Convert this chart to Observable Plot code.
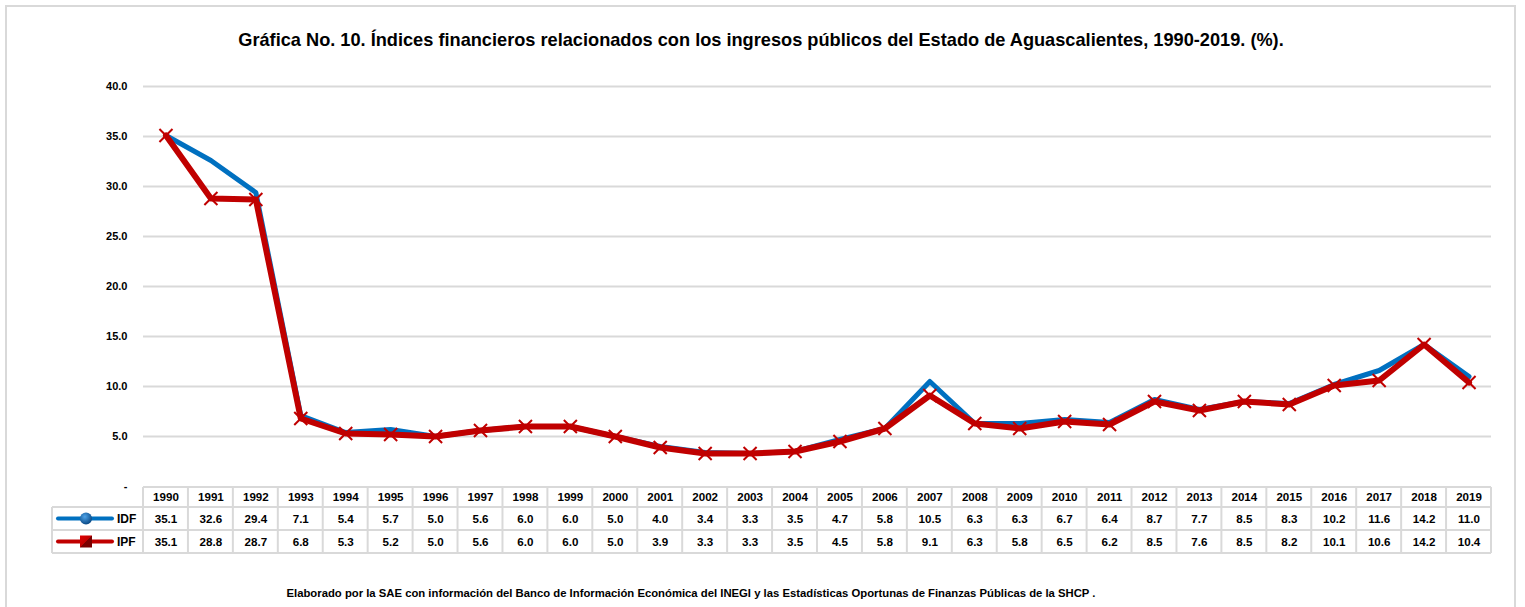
<!DOCTYPE html>
<html>
<head>
<meta charset="utf-8">
<script src="https://cdn.jsdelivr.net/npm/d3@7"></script>
<script src="https://cdn.jsdelivr.net/npm/@observablehq/plot@0.6"></script>
<style>
  html, body { margin: 0; padding: 0; background: #fff; }
  body { width: 1525px; height: 607px; position: relative; overflow: hidden; font-family: "Liberation Sans", Arial, sans-serif; }
  #frame { position: absolute; left: 5px; top: 5px; width: 1511px; height: 700px; border: 2px solid #d9d9d9; border-bottom: none; box-sizing: border-box; }
  #title { position: absolute; left: 0; width: 1522px; top: 30px; text-align: center; font-weight: bold; font-size: 18.2px; color: #000; white-space: nowrap; }
  #chart { position: absolute; left: 0; top: 70px; }
  #caption { position: absolute; left: 0; width: 1382px; top: 587px; text-align: center; font-weight: bold; font-size: 11.3px; color: #000; white-space: nowrap; }
</style>
</head>
<body>
<div id="frame"></div>
<div id="title">Gráfica No. 10. Índices financieros relacionados con los ingresos públicos del Estado de Aguascalientes, 1990-2019. (%).</div>
<div id="chart"></div>
<div id="caption">Elaborado por la SAE con información del Banco de Información Económica del INEGI y las Estadísticas Oportunas de Finanzas Públicas de la SHCP .</div>
<script>
const years = [1990,1991,1992,1993,1994,1995,1996,1997,1998,1999,2000,2001,2002,2003,2004,2005,2006,2007,2008,2009,2010,2011,2012,2013,2014,2015,2016,2017,2018,2019];
const idf = [35.1,32.6,29.4,7.1,5.4,5.7,5.0,5.6,6.0,6.0,5.0,4.0,3.4,3.3,3.5,4.7,5.8,10.5,6.3,6.3,6.7,6.4,8.7,7.7,8.5,8.3,10.2,11.6,14.2,11.0];
const ipf = [35.1,28.8,28.7,6.8,5.3,5.2,5.0,5.6,6.0,6.0,5.0,3.9,3.3,3.3,3.5,4.5,5.8,9.1,6.3,5.8,6.5,6.2,8.5,7.6,8.5,8.2,10.1,10.6,14.2,10.4];
const seriesNames = ["IDF", "IPF"];
const yTicks = [0, 5, 10, 15, 20, 25, 30, 35, 40];

const blue = "#0070C0";
const red = "#C00000";
const gridColor = "#d9d9d9";

const idfData = years.map((y, i) => ({year: y, value: idf[i]}));
const ipfData = years.map((y, i) => ({year: y, value: ipf[i]}));

const W = 1525, H = 490;
const mL = 143, mR = 34, mT = 16, mB = 74;
const rowTop = [1, 21, 44, 67]; // table row boundaries below the frame bottom (px)
const legendLeft = 52;

function tableMark(index, scales, values, dimensions) {
  const x = scales.x;
  const step = x(years[1]) - x(years[0]);
  const base = dimensions.height - dimensions.marginBottom;
  const g = d3.create("svg:g");
  const defs = g.append("defs");
  const rg = defs.append("radialGradient").attr("id", "ballGrad").attr("cx", "40%").attr("cy", "35%").attr("r", "65%");
  rg.append("stop").attr("offset", "0%").attr("stop-color", "#4ea3e8");
  rg.append("stop").attr("offset", "100%").attr("stop-color", "#0a4a86");
  const lg = defs.append("linearGradient").attr("id", "sqGrad").attr("x1", "0").attr("y1", "0").attr("x2", "1").attr("y2", "1");
  lg.append("stop").attr("offset", "0%").attr("stop-color", "#e00000");
  lg.append("stop").attr("offset", "50%").attr("stop-color", "#c00000");
  lg.append("stop").attr("offset", "51%").attr("stop-color", "#7a0000");
  lg.append("stop").attr("offset", "100%").attr("stop-color", "#7a0000");
  const left = x(years[0]) - step / 2;
  const right = x(years[years.length - 1]) + step / 2;
  const lines = g.append("g").attr("stroke", gridColor).attr("stroke-width", 2).attr("fill", "none");
  lines.append("line").attr("x1", left).attr("x2", right).attr("y1", base + rowTop[0]).attr("y2", base + rowTop[0]);
  for (let r = 1; r < rowTop.length; r++) {
    lines.append("line").attr("x1", legendLeft).attr("x2", right).attr("y1", base + rowTop[r]).attr("y2", base + rowTop[r]);
  }
  lines.append("line").attr("x1", legendLeft).attr("x2", legendLeft).attr("y1", base + rowTop[1]).attr("y2", base + rowTop[3]);
  for (let i = 0; i <= years.length; i++) {
    const xx = left + i * step;
    lines.append("line").attr("x1", xx).attr("x2", xx).attr("y1", base + rowTop[0]).attr("y2", base + rowTop[3]);
  }
  const cy1 = base + (rowTop[1] + rowTop[2]) / 2;
  const cy2 = base + (rowTop[2] + rowTop[3]) / 2;
  g.append("line").attr("x1", 58).attr("x2", 112).attr("y1", cy1).attr("y2", cy1).attr("stroke", blue).attr("stroke-width", 4).attr("stroke-linecap", "round");
  g.append("circle").attr("cx", 86).attr("cy", cy1).attr("r", 6).attr("fill", "url(#ballGrad)");
  g.append("line").attr("x1", 58).attr("x2", 112).attr("y1", cy2).attr("y2", cy2).attr("stroke", red).attr("stroke-width", 4).attr("stroke-linecap", "round");
  g.append("rect").attr("x", 80).attr("y", cy2 - 6).attr("width", 12).attr("height", 12).attr("fill", "url(#sqGrad)");
  const lt = g.append("g").attr("font-weight", "bold").attr("font-size", 12).attr("fill", "#000").attr("text-anchor", "start").attr("font-family", "Liberation Sans, Arial, sans-serif");
  lt.append("text").attr("x", 117).attr("y", cy1).attr("dy", "0.35em").text(seriesNames[0]);
  lt.append("text").attr("x", 117).attr("y", cy2).attr("dy", "0.35em").text(seriesNames[1]);
  return g.node();
}

const textStyle = {frameAnchor: "bottom", fontWeight: "bold", fontSize: 11.6, fill: "#000", lineAnchor: "middle"};

const chart = Plot.plot({
  width: W,
  height: H,
  marginLeft: mL,
  marginRight: mR,
  marginTop: mT,
  marginBottom: mB,
  style: {fontFamily: "Liberation Sans, Arial, sans-serif", background: "transparent", overflow: "visible"},
  x: {type: "point", domain: years, padding: 0.5, round: false, axis: null},
  y: {domain: [0, 40], axis: null, label: null},
  marks: [
    Plot.gridY(yTicks.filter(d => d > 0), {stroke: gridColor, strokeOpacity: 1, strokeWidth: 2}),
    Plot.axisY(yTicks, {tickSize: 0, tickPadding: 16, fontWeight: "bold", fontSize: 11, fill: "#000", label: null,
      tickFormat: d => d === 0 ? "-" : d.toFixed(1)}),
    tableMark,
    Plot.text(years, {x: d => d, text: d => String(d), dy: (rowTop[0] + rowTop[1]) / 2, ...textStyle}),
    Plot.text(idfData, {x: "year", text: d => d.value.toFixed(1), dy: (rowTop[1] + rowTop[2]) / 2, ...textStyle}),
    Plot.text(ipfData, {x: "year", text: d => d.value.toFixed(1), dy: (rowTop[2] + rowTop[3]) / 2, ...textStyle}),
    Plot.line(idfData, {x: "year", y: "value", stroke: blue, strokeWidth: 5, strokeLinejoin: "round"}),
    Plot.line(ipfData, {x: "year", y: "value", stroke: red, strokeWidth: 6, strokeLinejoin: "round"}),
    Plot.dot(ipfData, {x: "year", y: "value", symbol: "times", r: 6, stroke: red, strokeWidth: 2})
  ]
});
document.getElementById("chart").appendChild(chart);
</script>
</body>
</html>
